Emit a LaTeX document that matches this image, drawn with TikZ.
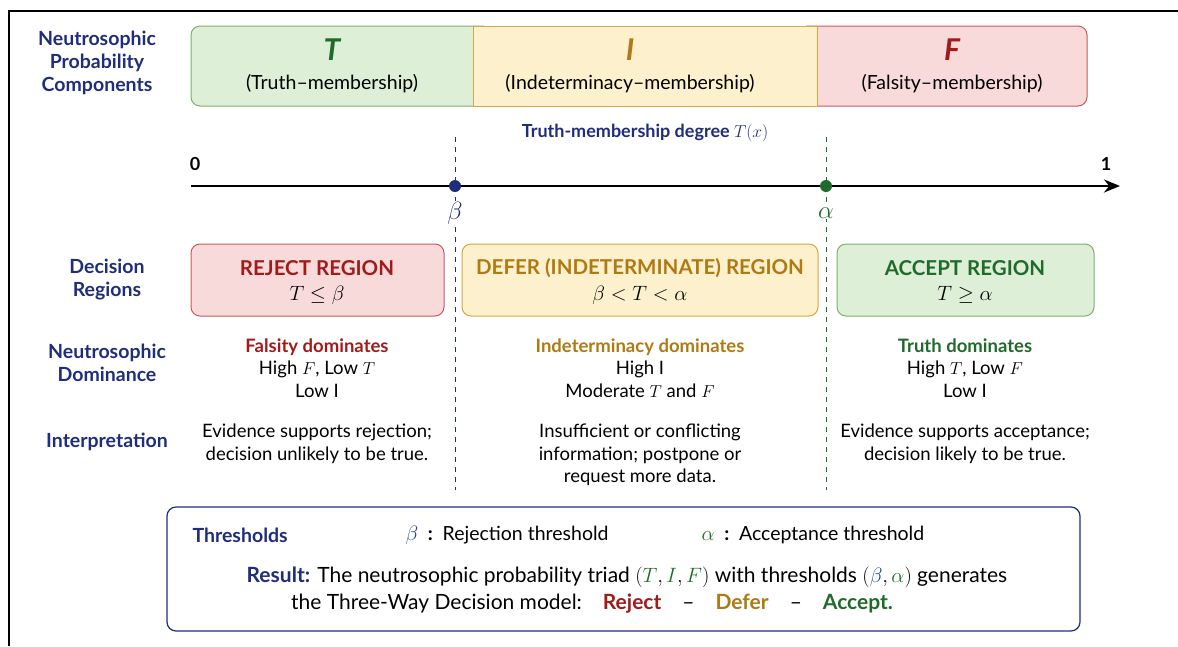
\documentclass[tikz,border=0pt]{standalone}
\usepackage{fontspec}
\setmainfont{Lato}
\usetikzlibrary{arrows.meta}
\definecolor{navy}{HTML}{1F2D7B}
\definecolor{dkred}{HTML}{A01C1C}
\definecolor{gold}{HTML}{B07A12}
\definecolor{dkgreen}{HTML}{1F6B2C}
\definecolor{bblue}{HTML}{1F3C9A}
\definecolor{greenfill}{HTML}{DDEFD6}
\definecolor{greenline}{HTML}{7FB06A}
\definecolor{yellowfill}{HTML}{FDF0CC}
\definecolor{yellowline}{HTML}{D6A640}
\definecolor{redfill}{HTML}{F9DADA}
\definecolor{redline}{HTML}{C85A5A}
\begin{document}
\begin{tikzpicture}[x=1pt,y=-1pt,
  lbl/.style={font=\fontsize{19.5}{23}\selectfont\bfseries, text=navy, align=center},
  txt/.style={font=\fontsize{18.5}{22.5}\selectfont, align=center, text=black},
  hd/.style={font=\fontsize{20.5}{22}\selectfont\bfseries},
  ax/.style={font=\fontsize{18}{20}\selectfont\bfseries},
  big/.style={font=\fontsize{30}{30}\selectfont\bfseries\itshape},
  sub/.style={font=\fontsize{19.5}{22}\selectfont},
  regbox/.style={draw, rounded corners=9pt, line width=1pt, minimum height=72pt, inner sep=0pt},
  topbox/.style={draw, line width=1pt, minimum height=80pt, inner sep=0pt},
  thr/.style={dash pattern=on 5pt off 5pt, line width=1pt},
  dot/.style={circle, inner sep=0pt, minimum size=12pt},
  bt/.style={font=\fontsize{19.5}{22}\selectfont, anchor=west},
  rt/.style={font=\fontsize{21}{24}\selectfont}
]
\useasboundingbox (0,0) rectangle (1178,646);
\fill[white] (0,0) rectangle (1178,646);
% frame
\coordinate (f1) at (9,646); \coordinate (f2) at (9,11); \coordinate (f3) at (1178,11);
\draw[line width=2pt] (f1) -- (f2) -- (f3);

% left labels
\node[lbl] (l1) at (97,63) {Neutrosophic\\Probability\\Components};
\node[lbl] (l2) at (107,280) {Decision\\Regions};
\node[lbl] (l3) at (107,363) {Neutrosophic\\Dominance};
\node[lbl] (l4) at (107,442) {Interpretation};

% top bar
\node[topbox, draw=greenline, fill=greenfill, rounded corners=9pt, minimum width=300pt] (tbox) at (341,66) {};
\node[topbox, draw=redline, fill=redfill, rounded corners=9pt, minimum width=288pt] (fbox) at (943,66) {};
\node[topbox, draw=yellowline, fill=yellowfill, minimum width=344pt] (ibox) at (645,66) {};
\node[big, text=dkgreen] (tl) at (332,50) {T};
\node[sub] (ts) at (332,84) {(Truth--membership)};
\node[big, text=gold] (il) at (630,50) {I};
\node[sub] (is) at (630,84) {(Indeterminacy--membership)};
\node[big, text=dkred] (fl) at (952,50) {F};
\node[sub] (fs) at (952,84) {(Falsity--membership)};

% axis
\node[ax, text=navy] (axt) at (645,133) {Truth-membership degree $T(x)$};
\coordinate (a0) at (191,186); \coordinate (a1) at (1120,186);
\draw[line width=2.8pt, -{Stealth[length=16pt,width=13pt]}] (a0) -- (a1);
\node[ax] (z0) at (195,164) {0};
\node[ax] (z1) at (1106,164) {1};
\coordinate (bt) at (455,137); \coordinate (bb) at (455,490);
\coordinate (at) at (826,137); \coordinate (ab) at (826,490);
\draw[thr, navy] (bt) -- (bb);
\draw[thr, dkgreen] (at) -- (ab);
\node[dot, fill=navy] (bdot) at (455,186) {};
\node[dot, fill=dkgreen] (adot) at (826,186) {};
\node[text=navy, font=\fontsize{24}{24}\selectfont, fill=white, inner sep=1pt] (blab) at (455,213) {$\beta$};
\node[text=dkgreen, font=\fontsize{24}{24}\selectfont, fill=white, inner sep=1pt] (alab) at (826,213) {$\alpha$};

% region boxes
\node[regbox, draw=redline, fill=redfill, minimum width=253pt] (rej) at (317.5,280) {};
\node[regbox, draw=yellowline, fill=yellowfill, minimum width=356pt] (def) at (640,280) {};
\node[regbox, draw=greenline, fill=greenfill, minimum width=257pt] (acc) at (965.5,280) {};
\node[hd, text=dkred] (rejh) at (317,268) {REJECT REGION};
\node[sub] (rejm) at (317,295) {$T\leq\beta$};
\node[hd, text=gold] (defh) at (640,268) {DEFER (INDETERMINATE) REGION};
\node[sub] (defm) at (640,295) {$\beta<T<\alpha$};
\node[hd, text=dkgreen] (acch) at (965,268) {ACCEPT REGION};
\node[sub] (accm) at (965,295) {$T\geq\alpha$};

% dominance
\node[txt] (rd) at (317,368) {{\bfseries\color{dkred}Falsity dominates}\\High $F$, Low $T$\\Low $\mathrm{I}$};
\node[txt] (dd) at (640,368) {{\bfseries\color{gold}Indeterminacy dominates}\\High $\mathrm{I}$\\Moderate $T$ and $F$};
\node[txt] (ad) at (965,368) {{\bfseries\color{dkgreen}Truth dominates}\\High $T$, Low $F$\\Low $\mathrm{I}$};

% interpretation
\node[txt] (ri) at (317,444) {Evidence supports rejection;\\decision unlikely to be true.};
\node[txt] (di) at (640,455) {Insufficient or conflicting\\information; postpone or\\request more data.};
\node[txt] (ai) at (965,444) {Evidence supports acceptance;\\decision likely to be true.};

% bottom box
\node[draw=navy, line width=1.2pt, rounded corners=9pt, minimum width=913pt, minimum height=124pt, inner sep=0pt] (bot) at (623.5,569) {};
\node[bt, font=\fontsize{19.5}{22}\selectfont\bfseries, text=navy] (thh) at (189,535) {Thresholds};
\node[bt] (thb) at (402,535) {\textcolor{bblue}{$\beta$}\enspace\textbf{:}\enspace Rejection threshold};
\node[bt] (tha) at (698,535) {\textcolor{dkgreen}{$\alpha$}\enspace\textbf{:}\enspace Acceptance threshold};
\node[rt] (res1) at (627,577) {\textcolor{navy}{\bfseries Result:} The neutrosophic probability triad $(\textcolor{dkgreen}{T},\textcolor{dkgreen}{I},\textcolor{dkgreen}{F})$ with thresholds $(\textcolor{bblue}{\beta},\textcolor{dkgreen}{\alpha})$ generates};
\node[rt] (res2) at (592,604) {the Three-Way Decision model:\quad \textcolor{dkred}{\bfseries Reject}\quad --\quad \textcolor{gold}{\bfseries Defer}\quad --\quad \textcolor{dkgreen}{\bfseries Accept.}};
\end{tikzpicture}
\end{document}
